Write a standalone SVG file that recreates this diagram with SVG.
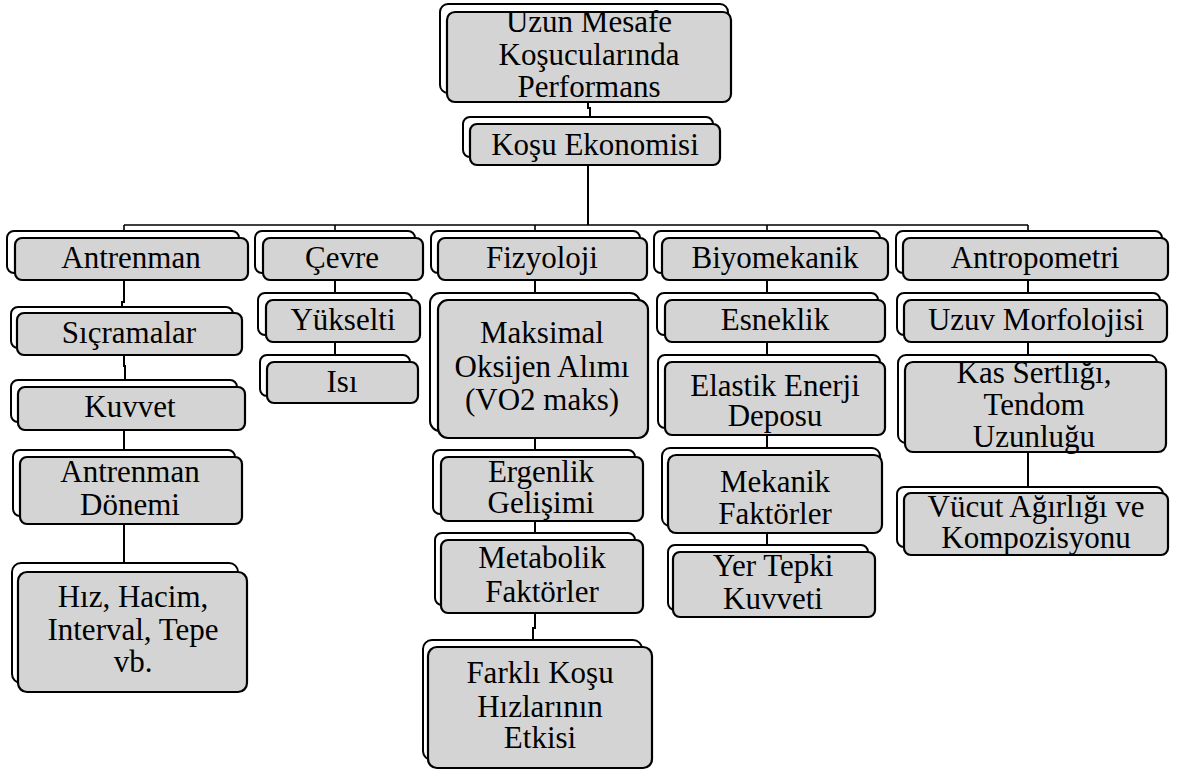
<svg xmlns="http://www.w3.org/2000/svg" width="1181" height="771" viewBox="0 0 1181 771">
<rect width="1181" height="771" fill="#fff"/>
<g id="connectors" fill="none" stroke="#000" stroke-width="2">
<path d="M588 102V108H590V118"/>
<path d="M588 165V225"/>
<path stroke-width="1.6" d="M124 225H1028M124 225V232M335 225V232M535 225V232M767 225V232M1028 225V232"/>
<path d="M124 280V302H122V313M124 355V366H125V387M124 430V457M124 524V572"/>
<path d="M335 280V300M335 342V362"/>
<path d="M535 280V300M535 438V457M535 521V540M535 613V628H533V647"/>
<path d="M767 280V300M767 342V362M767 435V455M767 533V552"/>
<path d="M1028 280V300M1028 342V362M1028 452V493"/>
</g>
<g id="nodes" font-family="Liberation Serif, serif" font-size="31" text-anchor="middle">
<g id="n-root">
<rect fill="#fff" stroke="#000" stroke-width="2" x="440" y="4" width="288" height="89" rx="8"/>
<rect fill="#d4d4d4" stroke="#000" stroke-width="2.2" x="447" y="12" width="284" height="90" rx="8"/>
<text x="589" y="32">Uzun Mesafe</text>
<text x="589" y="65">Koşucularında</text>
<text x="589" y="97">Performans</text>
</g>
<g id="n-kosu">
<rect fill="#fff" stroke="#000" stroke-width="2" x="463" y="117" width="250" height="40" rx="7"/>
<rect fill="#d4d4d4" stroke="#000" stroke-width="2.2" x="470" y="124" width="250" height="41" rx="7"/>
<text x="595" y="155">Koşu Ekonomisi</text>
</g>
<g id="n-antrenman">
<rect fill="#fff" stroke="#000" stroke-width="2" x="7" y="231" width="232" height="42" rx="7"/>
<rect fill="#d4d4d4" stroke="#000" stroke-width="2.2" x="15" y="238" width="233" height="42" rx="7"/>
<text x="131" y="268">Antrenman</text>
</g>
<g id="n-cevre">
<rect fill="#fff" stroke="#000" stroke-width="2" x="255" y="231" width="160" height="42" rx="7"/>
<rect fill="#d4d4d4" stroke="#000" stroke-width="2.2" x="263" y="238" width="160" height="42" rx="7"/>
<text x="342" y="268">Çevre</text>
</g>
<g id="n-fizyoloji">
<rect fill="#fff" stroke="#000" stroke-width="2" x="431" y="231" width="209" height="42" rx="7"/>
<rect fill="#d4d4d4" stroke="#000" stroke-width="2.2" x="438" y="238" width="209" height="42" rx="7"/>
<text x="542" y="268">Fizyoloji</text>
</g>
<g id="n-biyomekanik">
<rect fill="#fff" stroke="#000" stroke-width="2" x="654" y="231" width="226" height="42" rx="7"/>
<rect fill="#d4d4d4" stroke="#000" stroke-width="2.2" x="662" y="238" width="226" height="42" rx="7"/>
<text x="775" y="268">Biyomekanik</text>
</g>
<g id="n-antropometri">
<rect fill="#fff" stroke="#000" stroke-width="2" x="896" y="231" width="266" height="42" rx="7"/>
<rect fill="#d4d4d4" stroke="#000" stroke-width="2.2" x="903" y="238" width="265" height="42" rx="7"/>
<text x="1035" y="268">Antropometri</text>
</g>
<g id="n-sicramalar">
<rect fill="#fff" stroke="#000" stroke-width="2" x="11" y="307" width="222" height="41" rx="7"/>
<rect fill="#d4d4d4" stroke="#000" stroke-width="2.2" x="17" y="313" width="225" height="42" rx="7"/>
<text x="129" y="343">Sıçramalar</text>
</g>
<g id="n-kuvvet">
<rect fill="#fff" stroke="#000" stroke-width="2" x="11" y="380" width="226" height="42" rx="7"/>
<rect fill="#d4d4d4" stroke="#000" stroke-width="2.2" x="18" y="387" width="227" height="43" rx="7"/>
<text x="130" y="417">Kuvvet</text>
</g>
<g id="n-donemi">
<rect fill="#fff" stroke="#000" stroke-width="2" x="13" y="450" width="222" height="66" rx="7"/>
<rect fill="#d4d4d4" stroke="#000" stroke-width="2.2" x="20" y="457" width="222" height="67" rx="7"/>
<text x="130" y="482">Antrenman</text>
<text x="130" y="515">Dönemi</text>
</g>
<g id="n-hiz">
<rect fill="#fff" stroke="#000" stroke-width="2" x="12" y="563" width="226" height="120" rx="9"/>
<rect fill="#d4d4d4" stroke="#000" stroke-width="2.2" x="18" y="572" width="229" height="120" rx="9"/>
<text x="133" y="607">Hız, Hacim,</text>
<text x="133" y="640">Interval, Tepe</text>
<text x="133" y="672">vb.</text>
</g>
<g id="n-yukselti">
<rect fill="#fff" stroke="#000" stroke-width="2" x="258" y="293" width="154" height="42" rx="7"/>
<rect fill="#d4d4d4" stroke="#000" stroke-width="2.2" x="266" y="300" width="154" height="42" rx="7"/>
<text x="343" y="330">Yükselti</text>
</g>
<g id="n-isi">
<rect fill="#fff" stroke="#000" stroke-width="2" x="260" y="355" width="150" height="41" rx="7"/>
<rect fill="#d4d4d4" stroke="#000" stroke-width="2.2" x="267" y="362" width="151" height="41" rx="7"/>
<text x="342" y="392">Isı</text>
</g>
<g id="n-maksimal">
<rect fill="#fff" stroke="#000" stroke-width="2" x="430" y="293" width="210" height="138" rx="10"/>
<rect fill="#d4d4d4" stroke="#000" stroke-width="2.2" x="438" y="300" width="210" height="138" rx="10"/>
<text x="542" y="343">Maksimal</text>
<text x="542" y="377">Oksijen Alımı</text>
<text x="542" y="410">(VO2 maks)</text>
</g>
<g id="n-ergenlik">
<rect fill="#fff" stroke="#000" stroke-width="2" x="433" y="450" width="202" height="64" rx="7"/>
<rect fill="#d4d4d4" stroke="#000" stroke-width="2.2" x="441" y="457" width="202" height="64" rx="7"/>
<text x="541" y="482">Ergenlik</text>
<text x="541" y="513">Gelişimi</text>
</g>
<g id="n-metabolik">
<rect fill="#fff" stroke="#000" stroke-width="2" x="435" y="533" width="200" height="72" rx="7"/>
<rect fill="#d4d4d4" stroke="#000" stroke-width="2.2" x="441" y="540" width="202" height="73" rx="7"/>
<text x="542" y="568">Metabolik</text>
<text x="542" y="602">Faktörler</text>
</g>
<g id="n-farkli">
<rect fill="#fff" stroke="#000" stroke-width="2" x="423" y="640" width="219" height="120" rx="9"/>
<rect fill="#d4d4d4" stroke="#000" stroke-width="2.2" x="428" y="647" width="224" height="121" rx="9"/>
<text x="540" y="683">Farklı Koşu</text>
<text x="540" y="717">Hızlarının</text>
<text x="540" y="748">Etkisi</text>
</g>
<g id="n-esneklik">
<rect fill="#fff" stroke="#000" stroke-width="2" x="657" y="293" width="221" height="42" rx="7"/>
<rect fill="#d4d4d4" stroke="#000" stroke-width="2.2" x="665" y="300" width="220" height="42" rx="7"/>
<text x="775" y="330">Esneklik</text>
</g>
<g id="n-elastik">
<rect fill="#fff" stroke="#000" stroke-width="2" x="658" y="355" width="222" height="73" rx="7"/>
<rect fill="#d4d4d4" stroke="#000" stroke-width="2.2" x="665" y="362" width="220" height="73" rx="7"/>
<text x="775" y="396">Elastik Enerji</text>
<text x="775" y="426">Deposu</text>
</g>
<g id="n-mekanik">
<rect fill="#fff" stroke="#000" stroke-width="2" x="662" y="448" width="218" height="78" rx="8"/>
<rect fill="#d4d4d4" stroke="#000" stroke-width="2.2" x="668" y="455" width="214" height="78" rx="8"/>
<text x="775" y="492">Mekanik</text>
<text x="775" y="524">Faktörler</text>
</g>
<g id="n-yertepki">
<rect fill="#fff" stroke="#000" stroke-width="2" x="668" y="545" width="200" height="65" rx="7"/>
<rect fill="#d4d4d4" stroke="#000" stroke-width="2.2" x="673" y="552" width="202" height="65" rx="7"/>
<text x="773" y="576">Yer Tepki</text>
<text x="773" y="609">Kuvveti</text>
</g>
<g id="n-uzuv">
<rect fill="#fff" stroke="#000" stroke-width="2" x="897" y="293" width="263" height="42" rx="7"/>
<rect fill="#d4d4d4" stroke="#000" stroke-width="2.2" x="904" y="300" width="263" height="42" rx="7"/>
<text x="1036" y="330">Uzuv Morfolojisi</text>
</g>
<g id="n-kas">
<rect fill="#fff" stroke="#000" stroke-width="2" x="898" y="355" width="259" height="88" rx="8"/>
<rect fill="#d4d4d4" stroke="#000" stroke-width="2.2" x="905" y="362" width="261" height="90" rx="8"/>
<text x="1034" y="383">Kas Sertlığı,</text>
<text x="1034" y="415">Tendom</text>
<text x="1034" y="447">Uzunluğu</text>
</g>
<g id="n-vucut">
<rect fill="#fff" stroke="#000" stroke-width="2" x="897" y="487" width="266" height="60" rx="7"/>
<rect fill="#d4d4d4" stroke="#000" stroke-width="2.2" x="904" y="493" width="264" height="62" rx="7"/>
<text x="1036" y="517">Vücut Ağırlığı ve</text>
<text x="1036" y="548">Kompozisyonu</text>
</g>
</g>
</svg>
